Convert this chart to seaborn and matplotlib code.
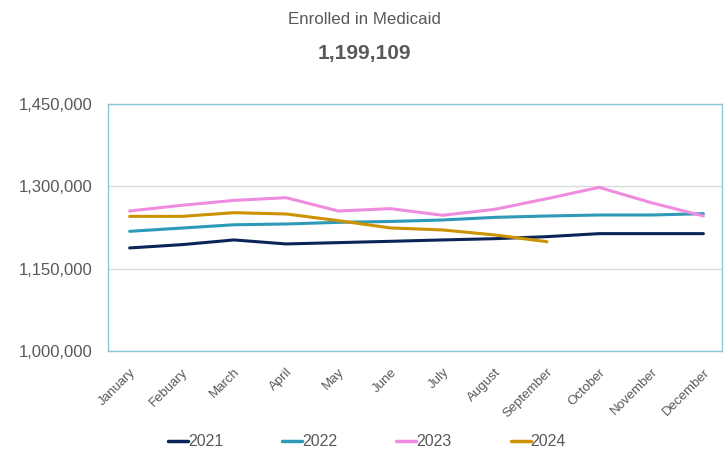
import pandas as pd
import matplotlib
matplotlib.use("Agg")
import matplotlib.pyplot as plt
import seaborn as sns
from matplotlib.ticker import FuncFormatter

# Data
months = ["January", "Febuary", "March", "April", "May", "June", "July",
          "August", "September", "October", "November", "December"]
enrolled_2021 = [1187700, 1193700, 1202300, 1195000, 1197400, 1199800,
                 1202300, 1204600, 1208300, 1213800, 1213800, 1213800]
enrolled_2022 = [1218000, 1224000, 1230000, 1231400, 1234400, 1236000,
                 1238700, 1243500, 1246000, 1247800, 1247800, 1250200]
enrolled_2023 = [1255100, 1265500, 1274500, 1279400, 1255100, 1259400,
                 1247300, 1258200, 1277600, 1298200, 1270300, 1246000]
enrolled_2024 = [1245300, 1245300, 1252000, 1249700, 1237500, 1224200,
                 1220500, 1211400, 1199109]
years = ["2021", "2022", "2023", "2024"]
colors = ["#0B2559", "#2E9AB8", "#F08CE0", "#CC9300"]
headline = "1,199,109"

series = [enrolled_2021, enrolled_2022, enrolled_2023, enrolled_2024]
rows = []
for yr, vals in zip(years, series):
    for i, v in enumerate(vals):
        rows.append({"month": i, "year": yr, "enrolled": v})
df = pd.DataFrame(rows)

sns.set_style("white")
plt.rcParams["font.family"] = ["Liberation Sans", "DejaVu Sans"]
text_color = "#595959"

fig = plt.figure(figsize=(7.28, 4.55), dpi=100)
ax = fig.add_axes([0.148, 0.229, 0.844, 0.542])

sns.lineplot(data=df, x="month", y="enrolled", hue="year",
             palette=dict(zip(years, colors)), linewidth=2.2, ax=ax,
             legend=False)

ax.set_xlim(-0.42, 11.36)
ax.set_ylim(1000000, 1450000)
ax.set_yticks([1000000, 1150000, 1300000, 1450000])
ax.yaxis.set_major_formatter(FuncFormatter(lambda v, p: f"{int(v):,}"))
ax.set_xticks(range(len(months)))
ax.set_xticklabels(months, rotation=45, ha="right", rotation_mode="anchor",
                   fontsize=9.5, color=text_color)
ax.tick_params(axis="y", labelsize=12, colors=text_color, length=0, pad=11)
ax.tick_params(axis="x", length=0, pad=11)
ax.set_xlabel("")
ax.set_ylabel("")
ax.grid(axis="y", color="#D9D9D9", linewidth=1)
for s in ax.spines.values():
    s.set_color("#8EC7DA")
    s.set_linewidth(1)

fig.text(0.5, 0.958, "Enrolled in Medicaid", ha="center", va="center",
         fontsize=12.2, color=text_color)
fig.text(0.5, 0.883, headline, ha="center", va="center",
         fontsize=15, fontweight="bold", color=text_color)

# legend
handles = [plt.Line2D([], [], color=c, linewidth=2.5) for c in colors]
fig.legend(handles, years, loc="center", bbox_to_anchor=(0.504, 0.029),
           ncol=4, frameon=False, handlelength=1.25, fontsize=11.5,
           handletextpad=0.0, columnspacing=3.7, labelcolor=text_color)

fig.savefig("out.png", dpi=100)
